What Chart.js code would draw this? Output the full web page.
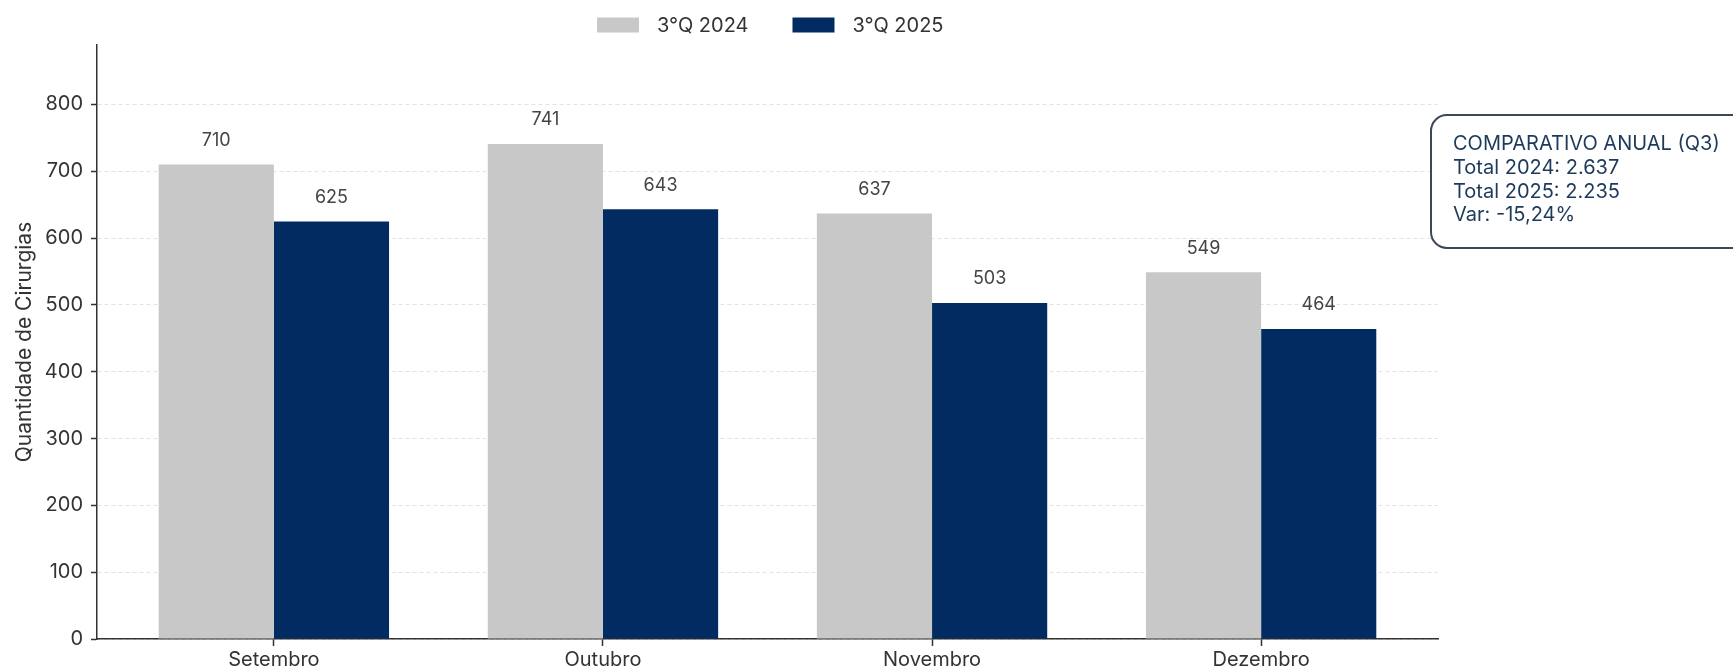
<!DOCTYPE html>
<html>
<head>
<meta charset="utf-8">
<script src="https://cdn.jsdelivr.net/npm/chart.js@4.4.1/dist/chart.umd.min.js"></script>
<style>
  html, body { margin: 0; padding: 0; background: #ffffff; }
  #wrap { width: 1733px; height: 671px; }
</style>
</head>
<body>
<div id="wrap"><canvas id="c" width="1733" height="671"></canvas></div>
<script>
const categories = ['Setembro', 'Outubro', 'Novembro', 'Dezembro'];
const seriesNames = ['3°Q 2024', '3°Q 2025'];
const values2024 = [710, 741, 637, 549];
const values2025 = [625, 643, 503, 464];
const yTicks = [0, 100, 200, 300, 400, 500, 600, 700, 800];
const yMax = 889;
const yTitle = 'Quantidade de Cirurgias';
const summaryTitle = 'COMPARATIVO ANUAL (Q3)';

const colors = ['#c8c8c8', '#022c61'];
const FONT = 'Inter, "Noto Sans", sans-serif';

function fmtInt(n) {
  return String(n).replace(/\B(?=(\d{3})+(?!\d))/g, '.');
}
const total2024 = values2024.reduce((a, b) => a + b, 0);
const total2025 = values2025.reduce((a, b) => a + b, 0);
const variation = (total2025 - total2024) / total2024 * 100;
const summaryLines = [
  summaryTitle,
  'Total 2024: ' + fmtInt(total2024),
  'Total 2025: ' + fmtInt(total2025),
  'Var: ' + variation.toFixed(2).replace('.', ',') + '%'
];

const toPoints = arr => arr.map((v, i) => ({ x: i, y: v }));

const valueLabels = {
  id: 'valueLabels',
  afterDatasetsDraw(chart) {
    const ctx = chart.ctx;
    ctx.save();
    ctx.font = '18px ' + FONT;
    ctx.fillStyle = '#444444';
    ctx.textAlign = 'center';
    ctx.textBaseline = 'middle';
    chart.data.datasets.forEach((ds, di) => {
      const meta = chart.getDatasetMeta(di);
      meta.data.forEach((bar, i) => {
        ctx.fillText(String(ds.data[i].y), bar.x, bar.y - 24);
      });
    });
    ctx.restore();
  }
};

const customLegend = {
  id: 'customLegend',
  afterDraw(chart) {
    const ctx = chart.ctx;
    ctx.save();
    ctx.font = '20px ' + FONT;
    ctx.textBaseline = 'middle';
    ctx.textAlign = 'left';
    const boxW = 42, boxH = 15, gap = 18, itemGap = 44;
    const widths = seriesNames.map(n => ctx.measureText(n).width);
    let x = 597;
    const cy = 25;
    seriesNames.forEach((n, i) => {
      ctx.fillStyle = colors[i];
      ctx.fillRect(x, cy - boxH / 2, boxW, boxH);
      ctx.fillStyle = '#333333';
      ctx.fillText(n, x + boxW + gap, cy + 1);
      x += boxW + gap + widths[i] + itemGap;
    });
    ctx.restore();
  }
};

const summaryBox = {
  id: 'summaryBox',
  afterDraw(chart) {
    const ctx = chart.ctx;
    ctx.save();
    const x = 1431, y = 115, w = 330, h = 133, r = 16;
    ctx.beginPath();
    ctx.roundRect(x, y, w, h, r);
    ctx.fillStyle = '#ffffff';
    ctx.fill();
    ctx.lineWidth = 2;
    ctx.strokeStyle = '#3b4858';
    ctx.stroke();
    ctx.font = '20px ' + FONT;
    ctx.fillStyle = '#1d3a5a';
    ctx.textAlign = 'left';
    ctx.textBaseline = 'middle';
    summaryLines.forEach((t, i) => {
      ctx.fillText(t, 1453, 144 + i * 23.8);
    });
    ctx.restore();
  }
};

const ctx = document.getElementById('c').getContext('2d');
new Chart(ctx, {
  type: 'bar',
  data: {
    datasets: [
      { label: seriesNames[0], data: toPoints(values2024), backgroundColor: colors[0], borderWidth: 0 },
      { label: seriesNames[1], data: toPoints(values2025), backgroundColor: colors[1], borderWidth: 0 }
    ]
  },
  options: {
    responsive: false,
    maintainAspectRatio: false,
    animation: false,
    devicePixelRatio: 1,
    layout: { padding: { top: 45, right: 295, left: 0, bottom: 0 } },
    datasets: { bar: { categoryPercentage: 0.7, barPercentage: 1.0 } },
    plugins: {
      legend: { display: false },
      tooltip: { enabled: false }
    },
    scales: {
      x: {
        type: 'linear',
        min: -0.5375,
        max: 3.5375,
        offset: false,
        afterBuildTicks: s => { s.ticks = categories.map((_, i) => ({ value: i })); },
        afterFit: s => { s.height = 32; },
        ticks: {
          callback: v => categories[v],
          font: { family: FONT, size: 20 },
          color: '#333333',
          padding: 2,
          autoSkip: false,
          maxRotation: 0
        },
        grid: {
          offset: false,
          drawOnChartArea: false,
          drawTicks: true,
          tickLength: 7,
          tickColor: '#333333',
          tickWidth: 1.5
        },
        border: { display: true, color: '#333333', width: 1.5 }
      },
      y: {
        min: 0,
        max: yMax,
        afterBuildTicks: s => { s.ticks = yTicks.map(v => ({ value: v })); },
        afterFit: s => { s.width = 97; },
        ticks: {
          font: { family: FONT, size: 20 },
          color: '#333333',
          padding: 8
        },
        grid: {
          color: 'rgba(0,0,0,0.11)',
          drawTicks: true,
          tickLength: 6,
          tickColor: '#333333',
          tickWidth: 1.5,
          tickBorderDash: []
        },
        border: { display: true, color: '#333333', width: 1.5, dash: [4, 3] },
        title: {
          display: true,
          text: yTitle,
          font: { family: FONT, size: 21 },
          color: '#333333',
          padding: { top: 12, bottom: 0 }
        }
      }
    }
  },
  plugins: [valueLabels, customLegend, summaryBox]
});
</script>
</body>
</html>
